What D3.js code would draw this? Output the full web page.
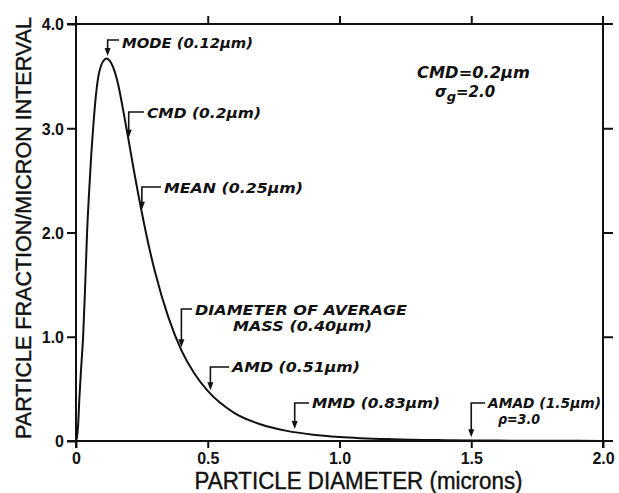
<!DOCTYPE html>
<html>
<head>
<meta charset="utf-8">
<script src="https://cdn.jsdelivr.net/npm/d3@7"></script>
<style>
  body { margin: 0; background: #fff; }
  svg { display: block; }
  .tick text { font-family: "Liberation Sans", Arial, sans-serif; font-weight: bold; font-size: 16px; fill: #111; }
  .note { font-family: "DejaVu Sans", sans-serif; font-weight: bold; font-style: italic; font-size: 14px; fill: #111; }
  .title { font-family: "Liberation Sans", Arial, sans-serif; font-size: 23px; fill: #111; stroke: #111; stroke-width: 0.4px; }
</style>
</head>
<body>
<div id="chart"></div>
<script>
// curve (diameter in microns, fraction per micron)
const diameter = [0, 0.004, 0.008, 0.013, 0.02, 0.027, 0.035, 0.042, 0.05, 0.058, 0.065, 0.075, 0.085,
  0.095, 0.105, 0.117, 0.13, 0.14, 0.16, 0.18, 0.2, 0.22, 0.25, 0.28, 0.3, 0.35, 0.4, 0.45, 0.5,
  0.6, 0.7, 0.8, 0.9, 1.0, 1.2, 1.4, 1.6, 1.8, 2.0];
const fraction = [0, 0.04, 0.15, 0.42, 0.72, 1.0, 1.5, 2.0, 2.4, 2.75, 3.0, 3.3, 3.5,
  3.6, 3.65, 3.67, 3.64, 3.59, 3.42, 3.16, 2.88, 2.59, 2.19, 1.83, 1.62, 1.19, 0.87, 0.645, 0.48,
  0.27, 0.16, 0.097, 0.061, 0.039, 0.017, 0.008, 0.004, 0.002, 0.001];

const xTicks = [0, 0.5, 1.0, 1.5, 2.0];
const xTickLabels = ["0", "0.5", "1.0", "1.5", "2.0"];
const yTicks = [0, 1, 2, 3, 4];
const yTickLabels = ["0", "1.0", "2.0", "3.0", "4.0"];

// marked diameters on the curve
const markDiam = [0.12, 0.2, 0.25, 0.40, 0.51, 0.83, 1.5];
const markText = [
  ["MODE (0.12\u00b5m)"],
  ["CMD (0.2\u00b5m)"],
  ["MEAN (0.25\u00b5m)"],
  ["DIAMETER OF AVERAGE", "MASS (0.40\u00b5m)"],
  ["AMD (0.51\u00b5m)"],
  ["MMD (0.83\u00b5m)"],
  ["AMAD (1.5\u00b5m)", "\u03c1=3.0"]
];

const width = 619, height = 493;
const margin = {top: 24, right: 16, bottom: 52, left: 76};

const svg = d3.select('#chart').append('svg')
  .attr('width', width)
  .attr('height', height);

const x = d3.scaleLinear().domain([0, 2]).range([margin.left, width - margin.right]);
const y = d3.scaleLinear().domain([0, 4]).range([height - margin.bottom, margin.top]);

const x0 = x.range()[0], x1 = x.range()[1];
const y0 = y.range()[0], y1 = y.range()[1];

// frame, each side runs a little past the corners
const frame = svg.append('g').attr('stroke', '#111').attr('stroke-width', 2).attr('fill', 'none');
frame.append('line').attr('x1', x0).attr('x2', x0).attr('y1', y1 - 8).attr('y2', y0 + 7);
frame.append('line').attr('x1', x1).attr('x2', x1).attr('y1', y1 - 8).attr('y2', y0 + 7);
frame.append('line').attr('x1', x0 - 9).attr('x2', x1 + 10).attr('y1', y0).attr('y2', y0);
frame.append('line').attr('x1', x0 - 9).attr('x2', x1 + 10).attr('y1', y1).attr('y2', y1);

function styleAxis(g) {
  g.select('.domain').remove();
  g.selectAll('.tick line').attr('stroke', '#111').attr('stroke-width', 2);
}

svg.append('g')
  .attr('transform', `translate(${x0},0)`)
  .call(d3.axisLeft(y).tickValues(yTicks).tickFormat((d, i) => yTickLabels[i])
    .tickSize(9).tickPadding(3))
  .call(styleAxis)
  .call(g => g.selectAll('.tick text').attr('dy', '0.36em'));

svg.append('g')
  .attr('transform', `translate(0,${y0})`)
  .call(d3.axisBottom(x).tickValues(xTicks).tickFormat((d, i) => xTickLabels[i])
    .tickSize(7).tickPadding(5))
  .call(styleAxis);

svg.append('g')
  .attr('transform', `translate(0,${y1})`)
  .call(d3.axisTop(x).tickValues(xTicks.slice(1, -1)).tickFormat('').tickSize(8))
  .call(styleAxis);

svg.append('g')
  .attr('transform', `translate(${x1},0)`)
  .call(d3.axisRight(y).tickValues(yTicks.slice(1, -1)).tickFormat('').tickSize(10))
  .call(styleAxis);

// the curve
const pts = diameter.map((d, i) => [d, fraction[i]]);
const line = d3.line()
  .x(d => x(d[0]))
  .y(d => y(d[1]))
  .curve(d3.curveMonotoneX);

svg.append('path')
  .datum(pts)
  .attr('fill', 'none')
  .attr('stroke', '#111')
  .attr('stroke-width', 2)
  .attr('d', line);

// value on the curve at a diameter (linear between read points)
function curveAt(d) {
  const i = Math.max(1, d3.bisectLeft(diameter, d));
  const t = (d - diameter[i - 1]) / (diameter[i] - diameter[i - 1]);
  return fraction[i - 1] + t * (fraction[i] - fraction[i - 1]);
}

// where each label sits: bracket height, text start, baseline, widths
const markLayout = [
  {lineY: 40, textX: 122, base: 48, w: [131]},
  {lineY: 112, textX: 147, base: 118, w: [114]},
  {lineY: 187, textX: 164, base: 193, w: [139]},
  {lineY: 309, textX: 195, base: 315, w: [212, 139], dx2: 38},
  {lineY: 367, textX: 232, base: 372, w: [128]},
  {lineY: 403, textX: 312, base: 408, w: [128]},
  {lineY: 403, textX: 488, base: 408, w: [113, 42], dx2: 10}
];

const marks = svg.append('g');
markDiam.forEach((d, i) => {
  const L = markLayout[i];
  const ax = x(d);
  const tipY = y(curveAt(d)) - 3;
  marks.append('path')
    .attr('d', `M${L.textX - 3},${L.lineY}H${ax}V${tipY - 6}`)
    .attr('fill', 'none')
    .attr('stroke', '#111')
    .attr('stroke-width', 1.6);
  marks.append('path')
    .attr('d', `M${ax - 3},${tipY - 8}L${ax + 3},${tipY - 8}L${ax},${tipY}Z`)
    .attr('fill', '#111');
  markText[i].forEach((t, j) => {
    marks.append('text')
      .attr('class', 'note')
      .attr('x', L.textX + (j ? L.dx2 : 0))
      .attr('y', L.base + j * 16)
      .attr('textLength', L.w[j])
      .attr('lengthAdjust', 'spacingAndGlyphs')
      .text(t);
  });
});

// parameters, upper right
svg.append('text')
  .attr('class', 'note')
  .attr('x', 417).attr('y', 78)
  .attr('textLength', 113)
  .attr('lengthAdjust', 'spacingAndGlyphs')
  .style('font-size', '15px')
  .text('CMD=0.2\u00b5m');

const sg = svg.append('text')
  .attr('class', 'note')
  .attr('x', 435).attr('y', 97)
  .style('font-size', '15px');
sg.append('tspan').text('\u03c3');
sg.append('tspan').attr('dy', 4).style('font-size', '13px').text('g');
sg.append('tspan').attr('dy', -4).text('=2.0');

// axis titles
svg.append('text')
  .attr('class', 'title')
  .attr('x', (x0 + x1) / 2 + 19)
  .attr('y', 489)
  .attr('text-anchor', 'middle')
  .attr('textLength', 328)
  .attr('lengthAdjust', 'spacingAndGlyphs')
  .text('PARTICLE DIAMETER (microns)');

svg.append('text')
  .attr('class', 'title')
  .attr('transform', `translate(31,228) rotate(-90)`)
  .attr('text-anchor', 'middle')
  .attr('textLength', 422)
  .attr('lengthAdjust', 'spacingAndGlyphs')
  .style('font-size', '22px')
  .text('PARTICLE FRACTION/MICRON INTERVAL');
</script>
</body>
</html>
